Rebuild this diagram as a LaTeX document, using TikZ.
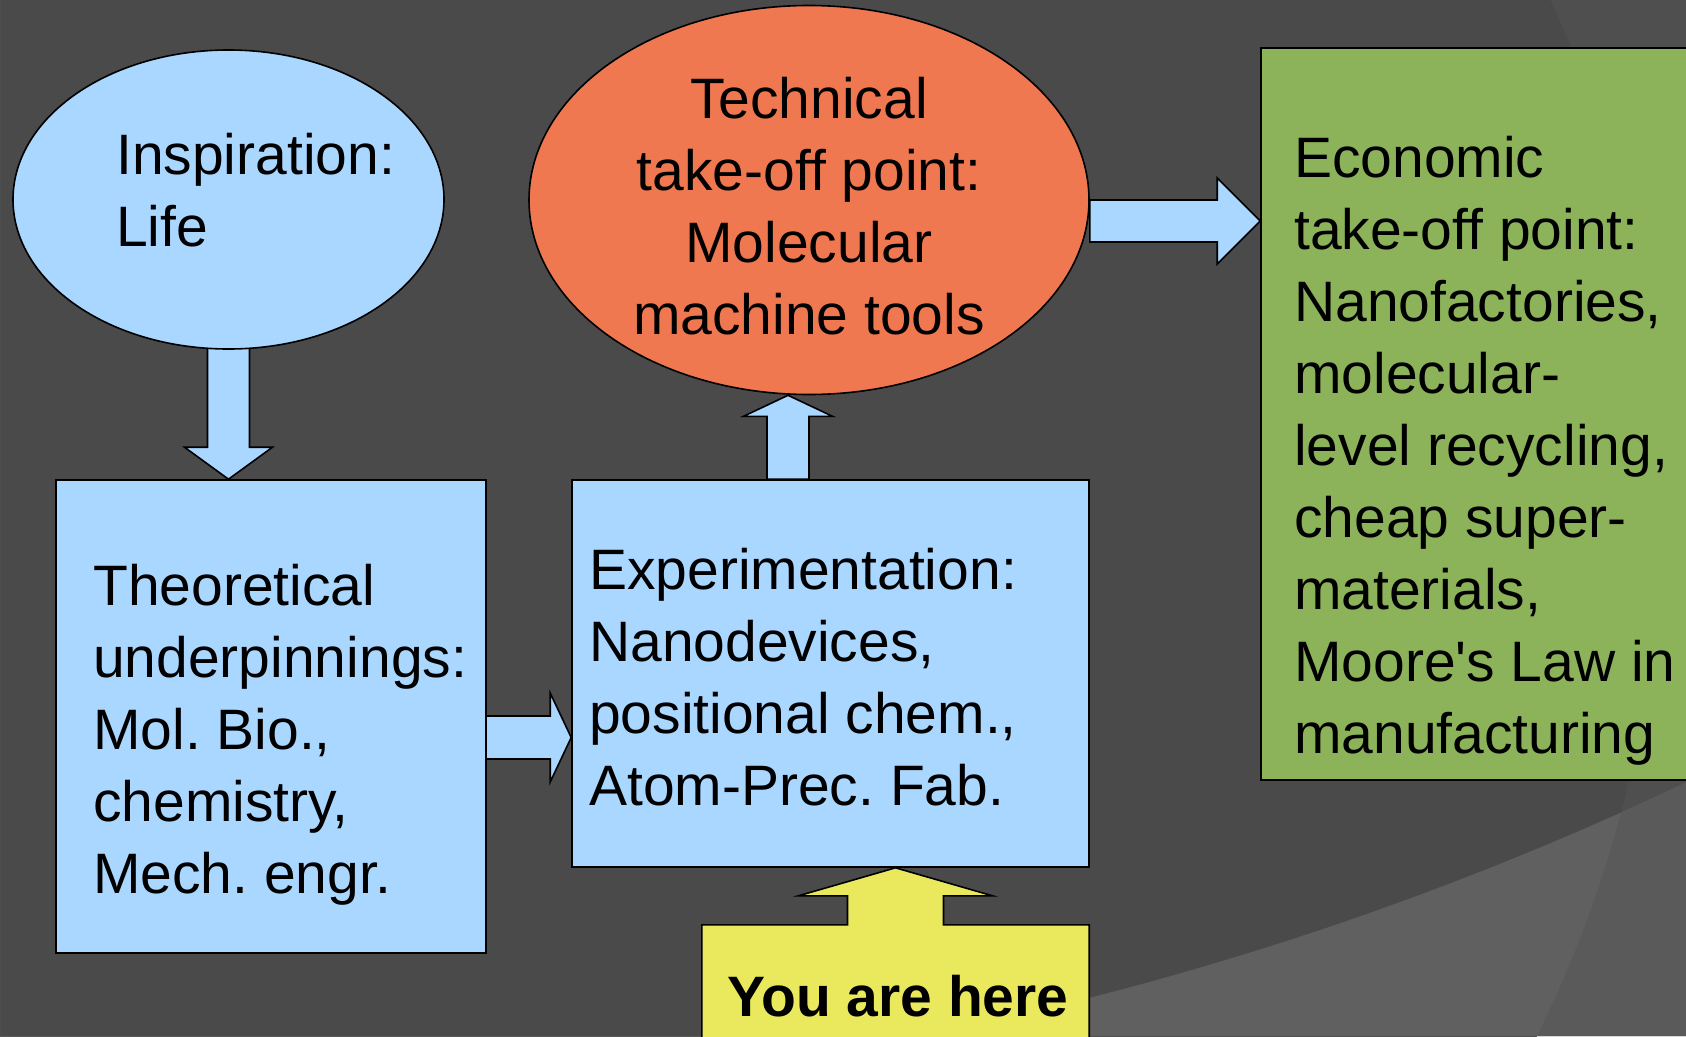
\documentclass[tikz,border=0pt]{standalone}
\usepackage{fontspec}
\setmainfont{Liberation Sans}[Ligatures=TeXOff]
\usetikzlibrary{shapes.geometric,calc}
\definecolor{bgcol}{HTML}{4A4A4A}
\definecolor{bgarcA}{HTML}{606060}
\definecolor{bgarcAB}{HTML}{5A5A5A}
\definecolor{bgarcB}{HTML}{4F4F4F}
\definecolor{lblue}{HTML}{AAD7FF}
\definecolor{orng}{HTML}{F07850}
\definecolor{grn}{HTML}{8CB25A}
\definecolor{ylw}{HTML}{EAE95E}
\newcommand\bigfont{\fontsize{57}{72}\selectfont\frenchspacing}
\pgfdeclarelayer{back}
\pgfdeclarelayer{arr}
\pgfsetlayers{back,arr,main}
\begin{document}
\frenchspacing
\begin{tikzpicture}[x=1pt,y=-1pt,
  shapeline/.style={draw=black, line width=1.6pt},
  ellbox/.style={ellipse, shapeline, inner sep=0pt},
  rectbox/.style={rectangle, shapeline, inner sep=0pt},
  blockarrow/.style={shapeline, fill=lblue, line join=miter},
  txt/.style={inner sep=0pt, font=\bigfont, text=black}]
\useasboundingbox (0,0) rectangle (1686,1036);

\begin{pgfonlayer}{back}
  \begin{scope}
    \clip (0,0) rectangle (1686,1036);
    \fill[bgcol] (0,0) rectangle (1686,1036);
    \fill[bgarcB, even odd rule] (0,0) rectangle (1686,1036) (460,504) circle[radius=1201pt];
    \begin{scope}[even odd rule]
      \clip (0,0) rectangle (1686,1036) (271,-2204) circle[radius=3304pt];
      \fill[bgarcA] (0,0) rectangle (1686,1036);
      \fill[bgarcAB, even odd rule] (0,0) rectangle (1686,1036) (460,504) circle[radius=1201pt];
    \end{scope}
  \end{scope}
\end{pgfonlayer}

% shapes
\node[ellbox, fill=lblue, minimum width=431pt, minimum height=299pt] (insp) at (228.5,199.5) {};
\node[ellbox, fill=orng, minimum width=560pt, minimum height=389pt] (tech) at (809,200) {};
\node[rectbox, fill=grn, minimum width=440pt, minimum height=732pt] (econ) at (1481,414) {};
\node[rectbox, fill=lblue, minimum width=430pt, minimum height=473pt] (theo) at (271,716.5) {};
\node[rectbox, fill=lblue, minimum width=517pt, minimum height=387pt] (expt) at (830.5,673.5) {};
\node[rectangle, inner sep=0pt, minimum width=387pt, minimum height=130pt] (here) at (895.5,990) {};

% texts
\node[txt, anchor=base west] (insptxt) at (116,174)
  {\parbox[t]{320pt}{\raggedright Inspiration:\\Life}};
\node[txt, anchor=base] (techtxt) at (809,118)
  {\parbox[t]{540pt}{\centering Technical\\take-off point:\\Molecular\\machine tools}};
\node[txt, anchor=base west] (econtxt) at (1294,177)
  {\parbox[t]{390pt}{\raggedright Economic\\take-off point:\\Nanofactories,\\molecular-\\level recycling,\\cheap super-\\materials,\\Moore's Law in\\manufacturing}};
\node[txt, anchor=base west] (theotxt) at (93,605)
  {\parbox[t]{390pt}{\raggedright Theoretical\\underpinnings:\\Mol. Bio.,\\chemistry,\\Mech. engr.}};
\node[txt, anchor=base west] (expttxt) at (589,589)
  {\parbox[t]{480pt}{\raggedright Experimentation:\\Nanodevices,\\positional chem.,\\Atom-Prec. Fab.}};
\node[txt, anchor=base, font=\bigfont\bfseries] (heretxt) at (898,1016) {You are here};

% block arrows behind the shapes
\begin{pgfonlayer}{arr}
  % Inspiration -> Theoretical
  \coordinate (a1s) at (insp.south);
  \coordinate (a1t) at (insp.south |- theo.north);
  \path[blockarrow] ($(a1s)+(-21,-4)$) -- ($(a1t)+(-21,-32)$) -- ($(a1t)+(-44,-32)$)
    -- (a1t) -- ($(a1t)+(44,-32)$) -- ($(a1t)+(21,-32)$) -- ($(a1s)+(21,-4)$) -- cycle;
  % Experimentation -> Technical
  \coordinate (a2t) at ($(tech.south)+(-21,0)$);
  \coordinate (a2s) at (a2t |- expt.north);
  \path[blockarrow] ($(a2s)+(-21,0)$) -- ($(a2t)+(-21,21)$) -- ($(a2t)+(-44.5,21)$)
    -- (a2t) -- ($(a2t)+(44.5,21)$) -- ($(a2t)+(21,21)$) -- ($(a2s)+(21,0)$) -- cycle;
  % Theoretical -> Experimentation
  \coordinate (a3s) at ($(theo.east)+(-4,21)$);
  \coordinate (a3t) at (a3s -| expt.west);
  \path[blockarrow] ($(a3s)+(0,-21.5)$) -- ($(a3t)+(-21,-21.5)$) -- ($(a3t)+(-21,-44.5)$)
    -- (a3t) -- ($(a3t)+(-21,44.5)$) -- ($(a3t)+(-21,21.5)$) -- ($(a3s)+(0,21.5)$) -- cycle;
  % You are here callout
  \path[shapeline, fill=ylw, line join=miter] ($(here.south west)+(0,20)$) -- (here.north west)
    -- ($(here.north)+(-48,0)$) -- ($(here.north)+(-48,-29)$) -- ($(here.north)+(-97,-29)$)
    -- (here.north |- expt.south) -- ($(here.north)+(97,-29)$) -- ($(here.north)+(48,-29)$)
    -- ($(here.north)+(48,0)$) -- (here.north east) -- ($(here.south east)+(0,20)$);
\end{pgfonlayer}

% Technical -> Economic (drawn over the ellipse)
\coordinate (a4s) at ($(tech.east)+(0,21)$);
\coordinate (a4t) at (a4s -| econ.west);
\path[blockarrow] ($(a4s)+(0,-21)$) -- ($(a4t)+(-43,-21)$) -- ($(a4t)+(-43,-43)$)
  -- (a4t) -- ($(a4t)+(-43,43)$) -- ($(a4t)+(-43,21)$) -- ($(a4s)+(0,21)$) -- cycle;
\end{tikzpicture}
\end{document}
